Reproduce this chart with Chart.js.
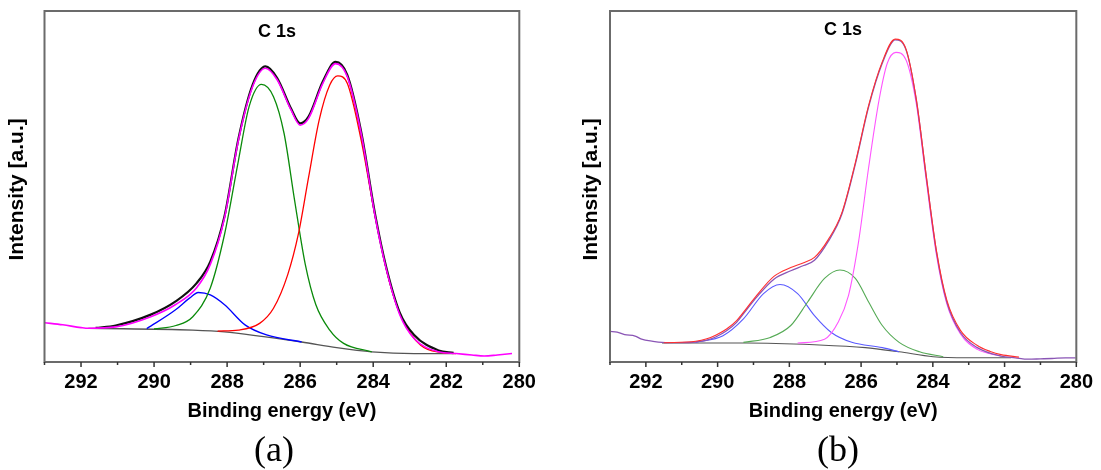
<!DOCTYPE html>
<html>
<head>
<meta charset="utf-8">
<script src="https://cdn.jsdelivr.net/npm/chart.js@4.4.0/dist/chart.umd.min.js"></script>
<style>
  body { margin: 0; background: #fff; }
  #page { position: relative; width: 1101px; height: 470px; overflow: hidden; }
  .panel { position: absolute; top: 0; height: 470px; }
  .peak { position: absolute; font: bold 18px "Liberation Sans", Arial, sans-serif; line-height: 1; transform: translateX(-50%); color: #000; }
  .cap { position: absolute; font: 36px "Liberation Serif", "Times New Roman", serif; line-height: 1; transform: translateX(-50%); color: #000; }
</style>
</head>
<body>
<div id="page">
  <div class="panel" style="left:0;width:550px"><canvas id="chartA"></canvas></div>
  <div class="panel" style="left:574px;width:527px"><canvas id="chartB"></canvas></div>
  <div class="peak" style="left:277px;top:22px">C 1s</div>
  <div class="peak" style="left:843px;top:20px">C 1s</div>
  <div class="cap" style="left:274px;top:431px">(a)</div>
  <div class="cap" style="left:838px;top:431px">(b)</div>
</div>
<script>
// x ticks (binding energy, eV)
const tickLabels = [292, 290, 288, 286, 284, 282, 280];

// ---- panel (a) ----
const aRawE = [291.6, 291.05, 290.09, 289.42, 288.84, 288.46, 288.07, 287.69, 287.3, 286.95, 286.63, 286.25, 286.0, 285.77, 285.38, 285.03, 284.71, 284.33, 283.94, 283.65, 283.27, 282.88, 282.21, 281.8];
const aRawI = [9.7, 10.4, 13.5, 17.2, 22.4, 28.6, 41.6, 63.6, 79.0, 84.2, 80.9, 72.2, 68.0, 69.9, 79.9, 85.5, 81.8, 65.6, 41.6, 27.3, 14.0, 7.7, 3.3, 2.6];
const aEnvE = [293, 292.5, 292, 291.8, 291.05, 290.09, 289.42, 288.84, 288.46, 288.07, 287.69, 287.3, 286.95, 286.63, 286.25, 286.0, 285.77, 285.38, 285.03, 284.71, 284.33, 283.94, 283.65, 283.27, 282.88, 282.21, 281.73, 281.3, 280.96, 280.6, 280.2];
const aEnvI = [11.2, 10.6, 9.8, 9.6, 10.0, 12.9, 16.3, 21.1, 27.8, 41.1, 63.2, 78.5, 83.7, 80.4, 71.8, 67.5, 69.4, 79.4, 85.0, 81.3, 65.1, 41.1, 26.8, 13.4, 6.7, 2.9, 2.4, 2.0, 1.7, 2.0, 2.4];
const aBgE = [291.8, 288.94, 288.07, 287.0, 285.96, 285.0, 284.04, 282.88, 281.8];
const aBgI = [9.6, 9.1, 8.6, 7.2, 5.7, 4.1, 2.9, 2.4, 2.4];
const aGreenE = [290.0, 289.4, 288.94, 288.46, 288.07, 287.69, 287.4, 287.06, 286.73, 286.44, 286.15, 285.86, 285.57, 285.19, 284.81, 284.04];
const aGreenI = [9.4, 10.4, 12.9, 21.1, 36.4, 57.4, 72.7, 79.1, 75.6, 65.1, 45.9, 27.8, 16.3, 9.1, 5.3, 2.9];
const aRedE = [288.26, 287.69, 287.11, 286.73, 286.34, 286.05, 285.77, 285.48, 285.19, 284.97, 284.71, 284.33, 283.94, 283.56, 283.17, 282.7, 282.12, 281.73];
const aRedI = [8.8, 9.1, 11.0, 15.3, 24.9, 36.4, 52.6, 68.9, 78.9, 81.5, 79.4, 63.2, 41.1, 23.0, 11.5, 4.8, 2.7, 2.4];
const aBlueE = [290.2, 289.42, 289.03, 288.79, 288.46, 288.07, 287.5, 286.92, 285.96];
const aBlueI = [9.5, 14.8, 18.2, 19.8, 19.1, 16.3, 10.5, 7.7, 5.7];

// ---- panel (b) ----
const bRawE = [293, 292.8, 292.59, 292.3, 292.12, 291.8, 291.55, 291.0, 290.61, 290.3, 290.04, 289.75, 289.47, 289.2, 288.91, 288.43, 287.96, 287.6, 287.3, 286.92, 286.54, 286.16, 285.79, 285.41, 285.05, 284.75, 284.46, 284.18, 283.9, 283.61, 283.23, 282.76, 282.1, 281.7, 281.34, 281.0, 280.68, 280.3, 280.02];
const bRawI = [8.7, 8.5, 7.8, 7.4, 6.5, 5.9, 5.6, 5.5, 5.7, 6.2, 7.2, 8.9, 11.3, 14.8, 18.5, 23.6, 26.0, 27.5, 29.0, 34.3, 42.0, 56.4, 72.7, 85.1, 91.8, 89.0, 74.6, 52.5, 31.4, 17.1, 8.4, 4.1, 1.7, 1.2, 0.8, 0.9, 1.0, 1.2, 1.2];
const bFitE = [291.5, 290.61, 290.3, 290.04, 289.75, 289.47, 289.2, 288.91, 288.43, 287.96, 287.6, 287.3, 286.92, 286.54, 286.16, 285.79, 285.41, 285.05, 284.75, 284.46, 284.18, 283.9, 283.61, 283.23, 282.76, 282.4, 282.1, 281.6];
const bFitI = [5.5, 5.9, 6.6, 7.7, 9.4, 11.8, 15.2, 19.0, 24.4, 26.9, 28.3, 29.8, 34.8, 42.4, 56.8, 73.1, 85.5, 92.0, 89.2, 74.8, 52.8, 31.8, 17.6, 9.0, 4.7, 3.0, 2.1, 1.4];
const bBgE = [291.55, 289.19, 287.3, 285.88, 284.94, 283.99, 283.04, 281.82];
const bBgI = [5.4, 5.4, 4.9, 4.1, 2.9, 1.5, 1.2, 1.2];
const bPinkE = [287.77, 287.02, 286.64, 286.35, 286.07, 285.79, 285.5, 285.27, 285.03, 284.75, 284.46, 284.18, 283.9, 283.61, 283.23, 282.76, 282.1];
const bPinkI = [5.4, 6.5, 11.3, 19.0, 34.3, 55.4, 74.6, 85.1, 88.2, 86.1, 73.5, 51.5, 30.6, 16.6, 8.0, 3.6, 1.7];
const bGreenE = [289.28, 288.53, 287.96, 287.49, 287.02, 286.59, 286.16, 285.79, 285.41, 284.94, 284.37, 283.71];
const bGreenI = [5.6, 7.0, 10.4, 17.1, 23.8, 26.2, 23.8, 17.1, 10.4, 5.6, 2.9, 1.5];
const bBlueE = [290.61, 289.85, 289.28, 288.72, 288.26, 287.77, 287.3, 286.83, 286.26, 285.41, 284.94];
const bBlueI = [5.6, 7.5, 12.3, 19.5, 22.1, 19.5, 13.2, 8.4, 5.6, 4.1, 2.9];

const pts = (xs, ys) => xs.map((x, i) => ({ x: x, y: ys[i] }));

function line(xs, ys, color, width, order) {
    return {
        data: pts(xs, ys),
        borderColor: color,
        borderWidth: width,
        pointRadius: 0,
        fill: false,
        tension: 0.4,
        cubicInterpolationMode: 'monotone',
        order: order
    };
}

// frame round the plot + major/minor tick marks on the x scale
const frameTicks = {
    id: 'frameTicks',
    afterDatasetsDraw(chart) {
        const { ctx, chartArea: a, scales: { x } } = chart;
        ctx.save();
        ctx.strokeStyle = '#6b6b6b';
        ctx.lineWidth = 2;
        ctx.strokeRect(a.left, a.top, a.right - a.left, a.bottom - a.top);
        ctx.strokeStyle = '#333';
        ctx.lineWidth = 1.5;
        x.ticks.forEach(t => {
            const px = x.getPixelForValue(t.value);
            const len = tickLabels.includes(t.value) ? 5 : 3;
            ctx.beginPath();
            ctx.moveTo(px, a.bottom);
            ctx.lineTo(px, a.bottom + len);
            ctx.stroke();
        });
        ctx.restore();
    }
};

function makeChart(id, datasets, axisWidth, padRight) {
    new Chart(document.getElementById(id), {
        type: 'line',
        data: { datasets: datasets },
        plugins: [frameTicks],
        options: {
            responsive: true,
            maintainAspectRatio: false,
            animation: false,
            layout: { padding: { top: 11, left: 0, right: padRight, bottom: 0 } },
            plugins: { legend: { display: false }, tooltip: { enabled: false } },
            scales: {
                x: {
                    type: 'linear',
                    reverse: true,
                    min: 280,
                    max: 293,
                    grid: { display: false, drawTicks: false },
                    border: { display: false },
                    afterFit: s => { s.height = 108; },
                    ticks: {
                        stepSize: 1,
                        autoSkip: false,
                        maxRotation: 0,
                        padding: 8,
                        color: '#000',
                        font: { family: 'Liberation Sans', size: 20, weight: 'bold' },
                        callback: v => tickLabels.includes(v) ? String(v) : ''
                    },
                    title: {
                        display: true,
                        text: 'Binding energy (eV)',
                        color: '#000',
                        font: { family: 'Liberation Sans', size: 20, weight: 'bold' },
                        padding: { top: 0, bottom: 47 }
                    }
                },
                y: {
                    min: 0,
                    max: 100,
                    grid: { display: false },
                    border: { display: false },
                    ticks: { display: false },
                    afterFit: s => { s.width = axisWidth; },
                    title: {
                        display: true,
                        text: 'Intensity [a.u.] ',
                        color: '#000',
                        font: { family: 'Liberation Sans', size: 21, weight: 'bold' },
                        padding: { top: 5, bottom: 0 }
                    }
                }
            }
        }
    });
}

makeChart('chartA', [
    line(aEnvE, aEnvI, '#ff00ff', 1.6, 1),
    line(aRawE, aRawI, '#111111', 2.2, 2),
    line(aRedE, aRedI, '#ff0000', 1.3, 3),
    line(aGreenE, aGreenI, '#0a8a0a', 1.3, 4),
    line(aBlueE, aBlueI, '#0000ff', 1.3, 5),
    line(aBgE, aBgI, '#555555', 1.3, 6)
], 44.5, 30.7);

makeChart('chartB', [
    line(bFitE, bFitI, '#ff3030', 1.1, 1),
    line(bRawE, bRawI, '#8a55b5', 1.3, 2),
    line(bPinkE, bPinkI, '#ff55ff', 1.1, 3),
    line(bGreenE, bGreenI, '#55aa55', 1.1, 4),
    line(bBlueE, bBlueI, '#5a5aff', 1.1, 5),
    line(bBgE, bBgI, '#555555', 1.1, 6)
], 36, 16);
</script>
</body>
</html>
